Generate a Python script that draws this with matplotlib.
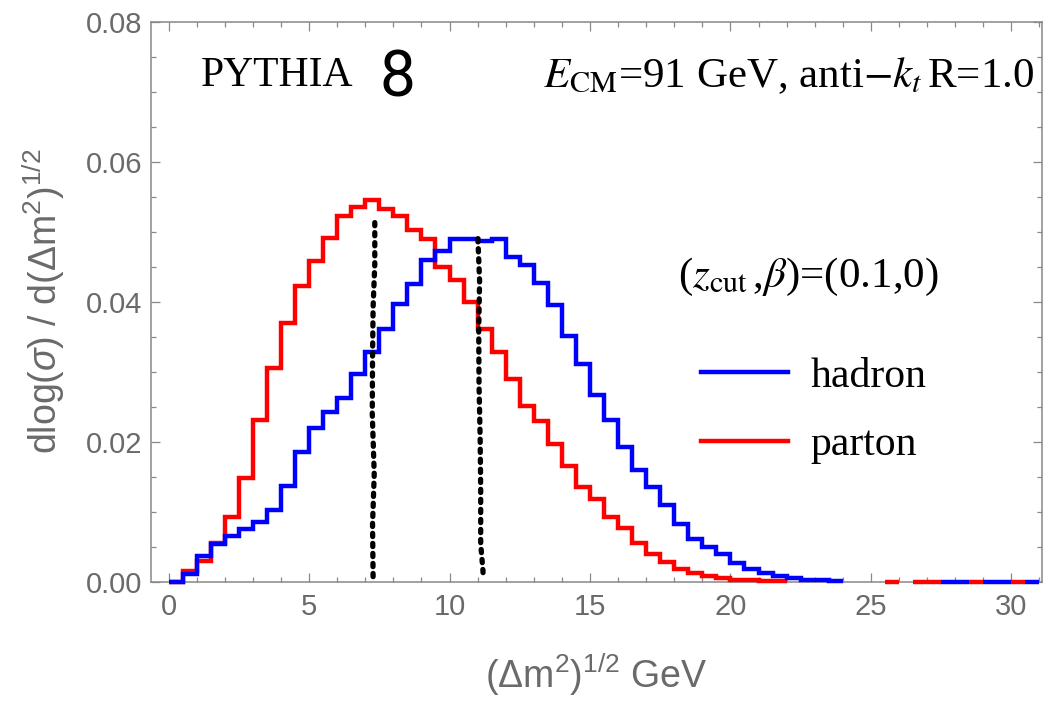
import numpy as np
import matplotlib
matplotlib.use("Agg")
import matplotlib.pyplot as plt
from matplotlib.ticker import MultipleLocator, FormatStrFormatter
from matplotlib.lines import Line2D

# Histogramy (szerokosc binu 0.5 GeV, od 0)
bin_width = 0.5
hadron_vals = [0.0000, 0.0011, 0.0037, 0.0054, 0.0066, 0.0075, 0.0086, 0.0103,
               0.0137, 0.0185, 0.0220, 0.0243, 0.0263, 0.0297, 0.0328, 0.0361,
               0.0397, 0.0425, 0.0459, 0.0472, 0.0490, 0.0489, 0.0487, 0.0489,
               0.0464, 0.0453, 0.0427, 0.0395, 0.0351, 0.0311, 0.0267, 0.0231,
               0.0193, 0.0159, 0.0135, 0.0109, 0.0082, 0.0061, 0.0049, 0.0039,
               0.0027, 0.0018, 0.0012, 0.0008, 0.0005, 0.0003, 0.0002, 0.0001]
parton_vals = [0.0000, 0.0015, 0.0030, 0.0055, 0.0092, 0.0148, 0.0231, 0.0305,
               0.0370, 0.0423, 0.0458, 0.0491, 0.0523, 0.0535, 0.0546, 0.0532,
               0.0523, 0.0502, 0.0490, 0.0449, 0.0431, 0.0399, 0.0361, 0.0328,
               0.0290, 0.0251, 0.0230, 0.0197, 0.0166, 0.0135, 0.0118, 0.0092,
               0.0077, 0.0056, 0.0039, 0.0028, 0.0018, 0.0012, 0.0008, 0.0005,
               0.0003, 0.0002, 0.0001, 0.0001]
# pojedyncze biny z zerowa wartoscia w ogonie (lewe krawedzie)
hadron_zero_bins = [27.5, 28.0, 29.0, 29.5, 30.5]
parton_zero_bins = [25.5, 26.5, 27.0, 28.5, 30.0]

# Linie kropkowane (mediany)
left_dot_x = [7.34, 7.34, 7.28, 7.26, 7.25, 7.32, 7.26, 7.28]
left_dot_y = [0.0513, 0.0454, 0.0392, 0.0320, 0.0240, 0.0154, 0.0082, 0.0006]
right_dot_x = [11.01, 11.07, 11.04, 11.05, 11.09, 11.11, 11.11, 11.19, 11.20]
right_dot_y = [0.0490, 0.0430, 0.0359, 0.0282, 0.0206, 0.0130, 0.0054, 0.0016, 0.0007]

gray = "#6a6a6a"
plt.rcParams["font.family"] = ["Liberation Sans", "DejaVu Sans"]
plt.rcParams["mathtext.fontset"] = "custom"
plt.rcParams["mathtext.rm"] = "Liberation Sans"
plt.rcParams["mathtext.it"] = "Liberation Sans:italic"

fig = plt.figure(figsize=(10.55, 7.02), dpi=100)
ax = fig.add_axes([151 / 1055, 1 - 581.7 / 702, 891 / 1055, 560 / 702])

h_edges = np.arange(len(hadron_vals) + 1) * bin_width
p_edges = np.arange(len(parton_vals) + 1) * bin_width

ax.stairs(parton_vals, p_edges, baseline=None, color="red", lw=3.2,
          zorder=3, clip_on=False)
ax.hlines([0] * len(parton_zero_bins), parton_zero_bins,
          np.array(parton_zero_bins) + bin_width, color="red", lw=3.2,
          zorder=3, clip_on=False)
ax.stairs(hadron_vals, h_edges, baseline=None, color="blue", lw=3.2,
          zorder=3.1, clip_on=False)
ax.hlines([0] * len(hadron_zero_bins), hadron_zero_bins,
          np.array(hadron_zero_bins) + bin_width, color="blue", lw=3.2,
          zorder=3.1, clip_on=False)

for xs, ys in [(left_dot_x, left_dot_y), (right_dot_x, right_dot_y)]:
    ax.plot(xs, ys, color="black", lw=3.8, linestyle=(0, (0.6, 1.3)),
            dash_capstyle="round", zorder=4)

ax.set_xlim(-0.626, 31.09)
ax.set_ylim(0, 0.08)
ax.xaxis.set_major_locator(MultipleLocator(5))
ax.xaxis.set_minor_locator(MultipleLocator(1))
ax.yaxis.set_major_locator(MultipleLocator(0.02))
ax.yaxis.set_minor_locator(MultipleLocator(0.005))
ax.yaxis.set_major_formatter(FormatStrFormatter("%.2f"))

for s in ax.spines.values():
    s.set_color("#888888")
    s.set_linewidth(1.1)
ax.tick_params(which="both", direction="in", top=True, right=True,
               colors="#888888", labelcolor=gray, labelsize=21, width=0.9)
ax.tick_params(which="major", length=6.5)
ax.tick_params(which="minor", length=3.6)
ax.tick_params(axis="x", pad=8)
ax.tick_params(axis="y", pad=6)

ax.set_xlabel(r"$(\Delta\mathrm{m}^2)^{1/2}$ GeV", fontsize=27, color=gray,
              labelpad=22)
ax.set_ylabel(r"dlog($\sigma$) / d$(\Delta\mathrm{m}^2)^{1/2}$", fontsize=27,
              color=gray, labelpad=14)

serif = ["Liberation Serif", "DejaVu Serif"]
ax.text(0.0558, 0.885, "PYTHIA", transform=ax.transAxes, fontsize=30,
        family=serif, va="baseline", ha="left")
ax.text(0.256, 0.866, "8", transform=ax.transAxes, fontsize=46,
        family=["Roboto"], va="baseline", ha="left")
ax.text(0.991, 0.884, r"$E_{\rm CM}$=91 GeV, anti$-k_t\,$R=1.0",
        transform=ax.transAxes, fontsize=31, family=serif,
        math_fontfamily="stix", va="baseline", ha="right")
ax.text(0.591, 0.5255, r"($z_{\rm cut}\,$,$\beta$)=(0.1,0)",
        transform=ax.transAxes, fontsize=31, family=serif,
        math_fontfamily="stix", va="baseline", ha="left")

handles = [Line2D([], [], color="blue", lw=3.2),
           Line2D([], [], color="red", lw=3.2)]
ax.legend(handles, ["hadron", "parton"], loc="center left",
          bbox_to_anchor=(0.617, 0.305), frameon=False, borderpad=0,
          borderaxespad=0, handlelength=2.1, handletextpad=0.53,
          labelspacing=0.72, prop={"family": serif, "size": 30})

fig.savefig("out.png", dpi=100)
